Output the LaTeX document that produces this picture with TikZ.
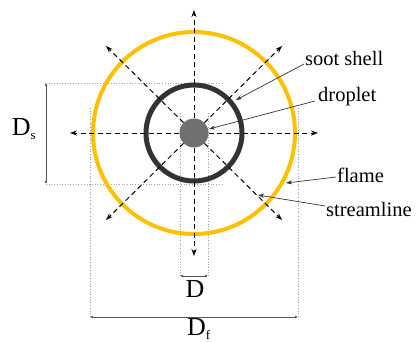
\documentclass[tikz,border=0pt]{standalone}
\usepackage{fontspec}
\setmainfont{Liberation Serif}
\usetikzlibrary{arrows.meta}
\definecolor{flamecol}{HTML}{FFC000}
\definecolor{shellcol}{HTML}{333333}
\definecolor{dropcol}{HTML}{707070}
\definecolor{dimcol}{HTML}{555555}
\definecolor{extcol}{HTML}{A0A0A0}
\tikzset{
  flow/.style={dashed, dash pattern=on 5pt off 3.5pt, line width=1pt, -{Stealth[length=7pt,width=5pt]}},
  dimline/.style={draw=dimcol, line width=0.9pt, {Latex[length=3pt,width=3pt]}-{Latex[length=3pt,width=3pt]}},
  extline/.style={draw=extcol, dotted, line width=0.7pt},
  leader/.style={draw=black!80, line width=0.7pt, -{Stealth[length=6pt,width=4pt]}},
  lbl/.style={font=\fontsize{20.5}{22}\selectfont, inner sep=1pt, anchor=west},
  dimlbl/.style={font=\fontsize{26}{28}\selectfont, inner sep=0pt}
}
\begin{document}
\begin{tikzpicture}[x=1pt,y=-1pt]
\useasboundingbox (0,0) rectangle (416,341);
% extension lines
\draw[extline] (46,83) -- (222,83);
\draw[extline] (46,184) -- (222,184);
\draw[extline] (180,113) -- (180,277);
\draw[extline] (208,113) -- (208,277);
\draw[extline] (90,108) -- (90,317);
\draw[extline] (298,108) -- (298,317);
% circles
\node[circle, draw=flamecol, line width=4pt, minimum size=202pt, inner sep=0pt] (flame) at (194,133) {};
\node[circle, draw=shellcol, line width=5pt, minimum size=96pt, inner sep=0pt] (shell) at (194,133) {};
\node[circle, fill=dropcol, minimum size=29pt, inner sep=0pt] (drop) at (194,133) {};
% streamline tips
\coordinate (tN) at (194,10);
\coordinate (tS) at (194,256);
\coordinate (tW) at (70,133);
\coordinate (tE) at (318,133);
\coordinate (tNW) at (106,46);
\coordinate (tNE) at (282,46);
\coordinate (tSW) at (106,220);
\coordinate (tSE) at (282,220);
\foreach \t in {tN,tS,tW,tE,tNW,tNE,tSW,tSE}{\draw[flow] (drop) -- (\t);}
% dimension lines
\coordinate (dsa) at (46,83);
\coordinate (dsb) at (46,184);
\draw[dimline] (dsa) -- (dsb);
\coordinate (da) at (180,276);
\coordinate (db) at (208,276);
\draw[dimline] (da) -- (db);
\coordinate (dfa) at (90,317);
\coordinate (dfb) at (298,317);
\draw[dimline] (dfa) -- (dfb);
\node[dimlbl] (Ds) at (24,129) {D\textsubscript{\fontsize{13}{14}\selectfont s}};
\node[dimlbl] (D) at (195,289) {D};
\node[dimlbl] (Df) at (199,329) {D\textsubscript{\fontsize{13}{14}\selectfont f}};
% labels
\node[lbl] (lsoot) at (304,58) {soot shell};
\node[lbl] (ldrop) at (317,97) {droplet};
\node[lbl] (lflame) at (336,175) {flame};
\node[lbl] (lstream) at (325,209) {streamline};
\coordinate (psoot) at (236,100);
\coordinate (pdrop) at (209,129);
\coordinate (pflame) at (286,183);
\coordinate (pstream) at (258,195);
\draw[leader] ([yshift=-6pt]lsoot.west) -- (psoot);
\draw[leader] ([yshift=-4pt,xshift=-2pt]ldrop.west) -- (pdrop);
\draw[leader] ([yshift=-2pt]lflame.west) -- (pflame);
\draw[leader] ([yshift=3pt]lstream.west) -- (pstream);
\end{tikzpicture}
\end{document}
